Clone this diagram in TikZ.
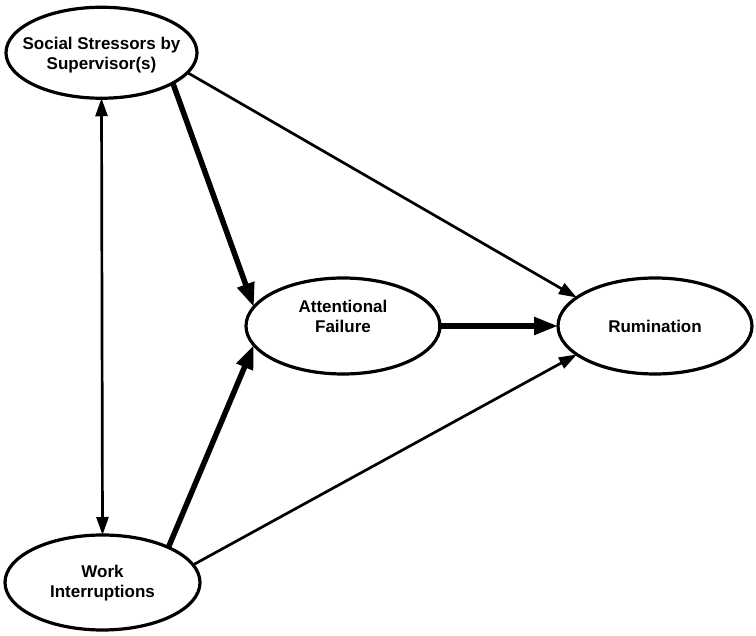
\documentclass[tikz,border=0pt]{standalone}
\usepackage{fontspec}
\setmainfont{Liberation Sans}
\usetikzlibrary{shapes.geometric,arrows.meta}
\begin{document}
\begin{tikzpicture}[x=1pt,y=-1pt,
  ell/.style={ellipse,draw,line width=3.2pt,inner sep=0pt,outer sep=0pt},
  lab/.style={font=\bfseries\fontsize{17}{20}\selectfont,align=center,inner sep=0pt},
  thinarrow/.style={line width=2.7pt,-{Triangle[length=18pt,width=12pt]}},
  dblarrow/.style={line width=2.7pt,{Triangle[length=18pt,width=12pt]}-{Triangle[length=18pt,width=12pt]}},
  thickarrow/.style={line width=5.5pt,-{Triangle[length=24pt,width=17pt]}}]
\useasboundingbox (0,0) rectangle (756,636);
\node[ell,minimum width=191pt,minimum height=91pt] (soc) at (101.5,52.75) {};
\node[ell,minimum width=194pt,minimum height=96pt] (att) at (343,326) {};
\node[ell,minimum width=194pt,minimum height=96pt] (rum) at (655,326) {};
\node[ell,minimum width=195pt,minimum height=95pt] (work) at (102.5,582.5) {};
\node[lab] (soct) at (101.5,55) {Social Stressors by\\Supervisor(s)};
\node[lab] (attt) at (343,316) {Attentional\\Failure};
\node[lab] (rumt) at (655,326) {Rumination};
\node[lab] (workt) at (102.5,583) {Work\\Interruptions};
\draw[dblarrow] (soc.south) -- (work.north);
\draw[thickarrow] (soc.-23) -- (att.168);
\draw[thinarrow] (soc.-13) -- (rum.160);
\draw[thickarrow] ([xshift=-2.5pt]att.east) -- (rum.west);
\draw[thickarrow] (work.28) -- (att.-168);
\draw[thinarrow] (work.11) -- (rum.-160);
\end{tikzpicture}
\end{document}
